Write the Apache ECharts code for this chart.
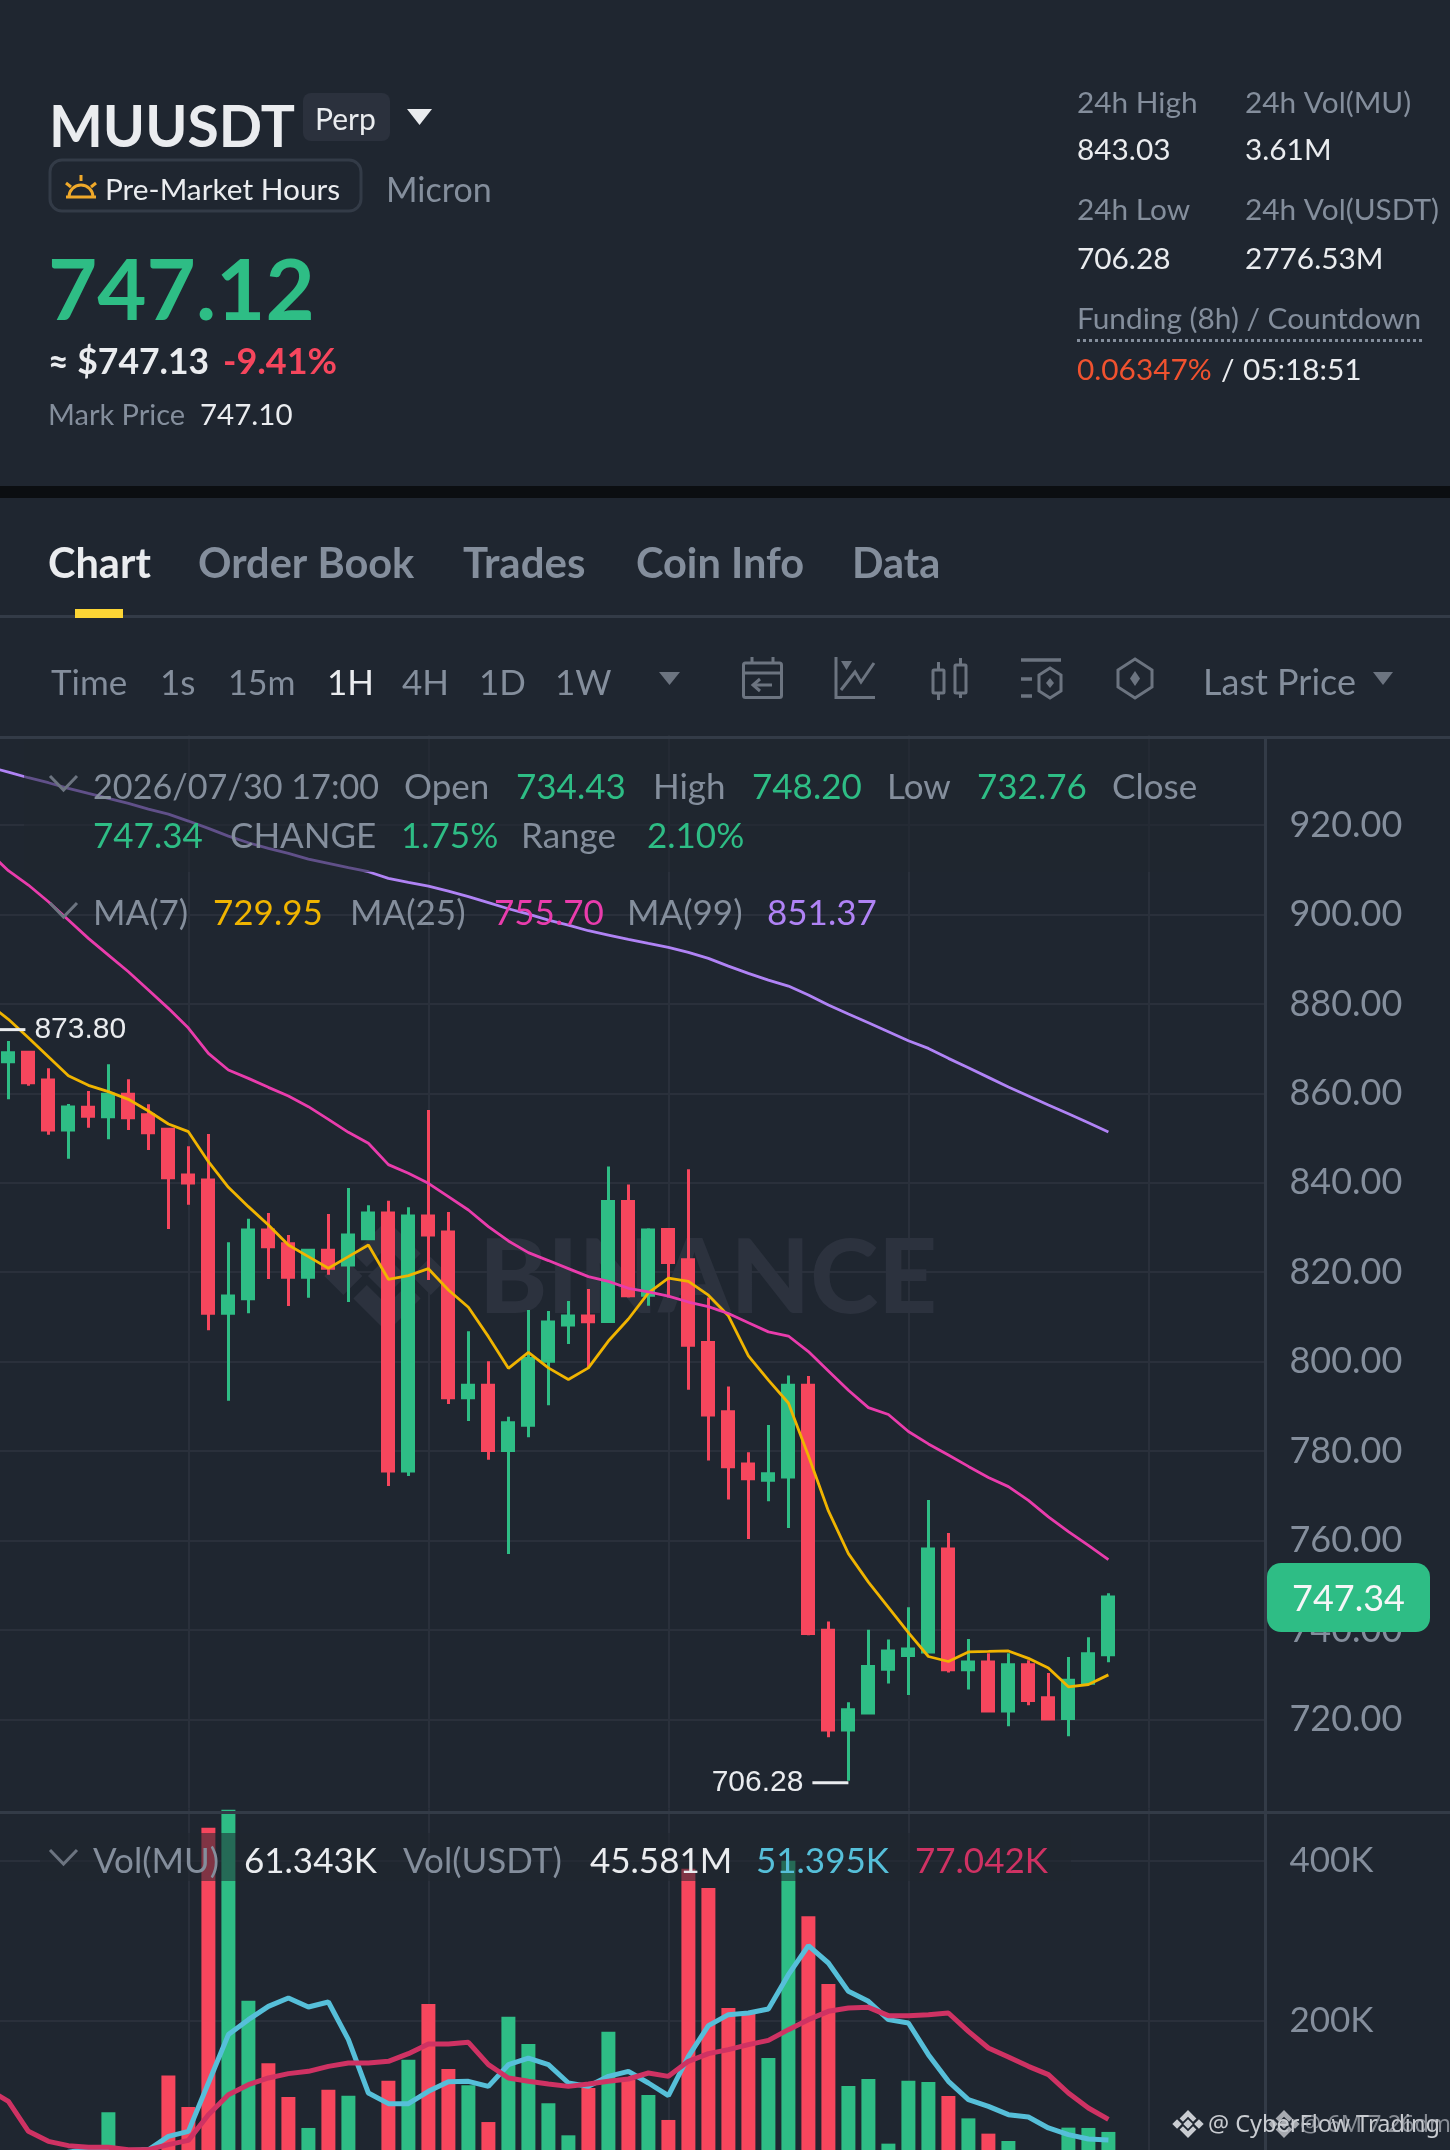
<!DOCTYPE html>
<html><head><meta charset="utf-8">
<style>html,body{margin:0;padding:0;background:#1f2630}#c{width:1450px;height:2150px}</style>
<script src="https://cdn.jsdelivr.net/npm/echarts@6/dist/echarts.min.js"></script>
</head><body><div id="c"></div>
<script>
// index -1 is the candle just left of the visible area
const categories = ['-1','0','1','2','3','4','5','6','7','8','9','10','11','12','13','14','15','16','17','18','19','20','21','22','23','24','25','26','27','28','29','30','31','32','33','34','35','36','37','38','39','40','41','42','43','44','45','46','47','48','49','50','51','52','53','54','55','','','','','','','',''];
const opens = [871,867.08,869.17,862.98,851.80,856.87,854.78,859.78,855.23,851.95,841.74,840.62,810.80,814.08,829.44,826.38,818.85,824.89,821.61,827.50,833.24,775.55,832.57,829.0,791.95,794.71,780.10,785.76,800.07,808.2,810.21,809.0,835.81,814.87,829.55,822.77,804.29,788.79,777.08,773.49,774.21,794.74,739.92,717.63,721.44,731.19,734.27,735.09,758.09,731.08,732.83,721.85,732.22,724.82,720.2,728.1,734.43];
const closes = [867.2,869.09,862.38,851.80,856.94,854.86,859.78,854.56,851.20,841.14,839.95,810.80,814.68,829.44,825.71,818.85,824.89,820.87,828.32,833.24,775.55,832.57,828.32,791.95,794.71,780.10,786.36,800.7,808.87,810.21,808.91,835.81,814.76,829.44,822.15,803.67,788.07,776.47,773.8,774.93,794.74,739.2,717.63,722.16,731.8,735.3,735.71,758.09,731.08,732.83,721.85,732.22,724.21,720.1,728.72,734.68,747.34];
const lows = [866,858.66,861.71,850.76,845.39,852.32,849.71,851.80,847.33,829.66,835.11,807.0,791.27,810.80,818.48,812.44,814.31,819.45,813.34,827.50,772.2,774.43,818.26,790.53,786.73,778.08,757,783.08,790.23,803.95,798.5,809.0,814.35,812.5,814.35,793.72,777.9,769.18,760.35,768.77,762.81,738.8,716.0,706.28,721.44,728.0,725.44,735.09,730.47,726.67,721.64,718.46,723.18,719.9,716.2,728.1,732.76];
const highs = [873.80,871.70,869.17,865.59,857.61,860.52,866.48,863.13,857.54,851.95,848.15,850.91,826.68,831.97,833.24,828.32,824.89,833.02,838.83,834.95,836.0,834.5,856.27,833.46,806.78,800.07,787.70,811.55,811.33,813.56,816.25,843.61,839.6,829.85,829.75,843.0,814.35,794.43,779.75,785.81,796.9,796.8,741.87,723.8,740.02,737.86,745.05,769.07,761.68,737.96,734.78,734.78,733.24,730.37,733.96,738.37,748.20];
const ma7 = [880,876.55,872.45,868.2,863.95,861.79,860.37,858.66,856.05,853.14,851.43,844.72,838.98,834.66,830.56,826.08,823.48,820.87,823.48,826.08,818.41,819.23,820.79,816.02,812.15,805.59,798.5,802.08,798.6,796.0,798.6,804.6,809.53,815.38,818.66,817.95,814.86,810.25,801.31,795.87,790.74,778.93,766.61,757.06,750.7,745.05,739.4,734.06,732.94,735.09,735.19,735.3,733.65,731.5,727.29,727.8,729.95];
const ma25 = [914.03,909.78,906.58,902.85,898.75,894.65,890.92,887.2,883.1,879.0,874.6,868.95,865.22,863.35,861.34,859.4,857.02,854.19,851.28,848.82,844.05,842.11,839.87,836.89,833.91,830.2,826.98,824.37,822.6,820.8,819.0,817.95,816.4,815.58,814.66,813.33,812.3,810.76,808.7,806.65,805.73,802.24,797.92,793.61,789.71,788.17,784.37,781.6,779.14,776.57,774.1,772.05,768.97,765.28,761.99,758.91,755.70];
const ma99 = [933.04,931.84,930.58,929.46,928.19,927.07,925.96,924.84,923.57,922.45,920.89,919.25,917.53,916.04,914.77,913.66,912.39,911.42,910.45,909.56,908.07,907.17,906.35,905.23,903.97,902.63,901.28,900.09,898.75,897.63,896.36,895.4,894.43,893.53,892.64,891.52,890.18,888.46,886.82,885.33,883.99,881.98,879.74,877.73,875.79,873.78,871.77,870.05,867.82,865.73,863.57,861.4,859.4,857.4,855.44,853.43,851.37];
const volumes = [30000,20000,22000,25000,30000,32000,85800,30000,42000,132000,92500,441700,464000,225400,147100,105000,66300,114000,106700,30000,125400,151700,221300,140000,119600,73700,205400,171300,97100,57100,116300,186700,126700,107500,76300,390400,366300,216300,210000,153800,400400,330800,246300,118800,127500,46700,125400,123800,106300,78300,59200,50000,30000,30000,66700,66300,61343];
const volMaShort = [26000,28000,30000,32000,36000,40000,41000,38000,39000,55800,62000,122500,183000,201700,218300,228800,217500,223800,176700,110000,96700,96700,112100,124200,124600,118300,145400,153700,145400,122500,118300,130800,137100,122500,106700,155800,194200,207900,210000,215000,257900,294200,272500,237100,224600,201700,197500,157900,124600,101700,93300,82900,80000,66300,57900,52500,51395];
const volMaLong = [114000,99600,62100,49600,44200,42100,42100,39200,39200,45400,50800,82900,107900,120400,128800,134200,137100,143300,147500,147500,149600,159200,171300,171300,173300,145400,128800,124600,121300,118300,121300,124600,127500,135000,130800,149600,159200,164200,170400,175800,189200,201700,212100,216300,217100,206700,206700,207900,210000,187100,166300,155000,143300,132900,110000,91200,77042];

const BG='#1f2630', LINE='#333b47', GRID='#2a303b', GRAY='#848e9c', WHITE='#eaecef', GREEN='#2ebd85', RED='#f6465d', F='Lato, "Noto Sans", sans-serif';
const MA7C='#f0b400', MA25C='#e93cac', MA99C='#b083f5', VMS='#56bfd9', VMR='#cf3263';

const candleData = opens.map((o,i)=>[o,closes[i],lows[i],highs[i]]);
const volData = volumes.map((v,i)=>({value:v,itemStyle:{color:closes[i]>=opens[i]?GREEN:RED}}));

// y is the text baseline
function t(x,y,text,fill,size,weight,extra){return {type:'text',x:x,y:y-0.27*size,z:20,style:Object.assign({text:text,fill:fill,fontSize:size,fontWeight:weight||400,fontFamily:F,textAlign:'left',verticalAlign:'middle'},extra||{})};}
function r(x,y,w,h,fill,z,rad,stroke,lw){return {type:'rect',z:z===undefined?5:z,shape:{x:x,y:y,width:w,height:h,r:rad||0},style:{fill:fill,stroke:stroke||null,lineWidth:lw||0}};}
function chevron(x,y){return {type:'polyline',z:20,shape:{points:[[x,y],[x+13.5,y+14],[x+27,y]]},style:{stroke:'#6c7480',lineWidth:3,fill:null}};}
function tri(x,y,w,h,fill){return {type:'polygon',z:20,shape:{points:[[x,y],[x+w,y],[x+w/2,y+h]]},style:{fill:fill}};}
function lineG(pts,stroke,lw){return {type:'polyline',z:20,shape:{points:pts},style:{stroke:stroke,lineWidth:lw||3,fill:null}};}
function bdiamond(cx,cy,s,fill,z,op){
  const d=(x,y,a)=>({type:'polygon',z:z,shape:{points:[[x,y-a],[x+a,y],[x,y+a],[x-a,y]]},style:{fill:fill,opacity:op===undefined?1:op}});
  const c=(pts)=>({type:'polygon',z:z,shape:{points:pts.map(p=>[cx+p[0]*s,cy+p[1]*s])},style:{fill:fill,opacity:op===undefined?1:op}});
  return [d(cx,cy,.17*s),d(cx-.39*s,cy,.17*s),d(cx+.39*s,cy,.17*s),
    c([[0,-.5],[.3,-.2],[.18,-.08],[0,-.26],[-.18,-.08],[-.3,-.2]]),
    c([[0,.5],[.3,.2],[.18,.08],[0,.26],[-.18,.08],[-.3,.2]])];
}

const g=[];
const LS=35, ST=29.8, TB=35;
// header
g.push(t(49,144,'MUUSDT','#eaecef',57,700));
g.push(r(303,93,87,48,'#2b313d',5,8));
g.push(t(315,128,'Perp',WHITE,30,400));
g.push(tri(407,109,25,16,'#eaecef'));
g.push(r(50,160,311,51,'none',5,12,LINE,3));
g.push(lineG([[66,197],[96,197]],'#f0a92a',3));
g.push({type:'arc',z:20,shape:{cx:81,cy:197,r:12,startAngle:Math.PI,endAngle:2*Math.PI},style:{stroke:'#f0a92a',lineWidth:3,fill:null}});
g.push(lineG([[81,175],[81,181]],'#f0a92a',3),lineG([[66,183],[71,187]],'#f0a92a',3),lineG([[96,183],[91,187]],'#f0a92a',3));
g.push(t(105,198,'Pre-Market Hours',WHITE,29.8,400));
g.push(t(386,200,'Micron',GRAY,34,400));
g.push(t(48,316,'747.12',GREEN,85,700));
g.push(t(48,372,'≈ $747.13',WHITE,35.5,700));
g.push(t(223,372,'-9.41%',RED,36,700));
g.push(t(48,423,'Mark Price',GRAY,29,400));
g.push(t(200,423,'747.10',WHITE,29.5,400));
g.push(t(1077,111,'24h High',GRAY,ST),t(1245,111,'24h Vol(MU)',GRAY,ST),t(1077,158,'843.03',WHITE,ST),t(1245,158,'3.61M',WHITE,ST));
g.push(t(1077,218,'24h Low',GRAY,ST),t(1245,218,'24h Vol(USDT)',GRAY,ST),t(1077,267,'706.28',WHITE,ST),t(1245,267,'2776.53M',WHITE,ST));
g.push(t(1077,327,'Funding (8h) / Countdown',GRAY,ST));
g.push({type:'line',z:20,shape:{x1:1077,y1:340.5,x2:1422,y2:340.5},style:{stroke:GRAY,lineWidth:3,lineDash:[3,3]}});
g.push(t(1077,378,'0.06347%','#f0522f',ST),t(1221,378,'/',WHITE,ST),t(1243,378,'05:18:51',WHITE,ST));
g.push(r(0,486,1450,12,'#0b0e11',5));
// tabs
g.push(t(48,576,'Chart',WHITE,41.5,700),t(198,576,'Order Book',GRAY,41.5,700),t(463,576,'Trades',GRAY,42,700),t(636,576,'Coin Info',GRAY,41.5,700),t(852,576,'Data',GRAY,41.5,700));
g.push(r(0,615,1450,3,LINE,5),r(75,609,48,9,'#fcd535',6));
// toolbar
g.push(t(51,693,'Time',GRAY,TB),t(160,693,'1s',GRAY,TB),t(228,693,'15m',GRAY,34),t(327,693,'1H',WHITE,TB),t(402,693,'4H',GRAY,TB),t(479,693,'1D',GRAY,TB),t(555,693,'1W',GRAY,TB),t(1203,693,'Last Price',GRAY,36));
g.push(tri(659,672,21,13,'#6c7480'),tri(1373,672,20,13,'#6c7480'));
const IC='#6c7480';
g.push(r(743.5,663,38,34.5,'none',20,2,IC,3),lineG([[743,673],[782,673]],IC,3),lineG([[752,657],[752,663]],IC,3),lineG([[773,657],[773,663]],IC,3),lineG([[772,685],[753,685]],IC,3),lineG([[760,679],[753,685],[760,691]],IC,3));
g.push(lineG([[836,657],[836,697.5],[875,697.5]],IC,3),tri(841,661,11,9,IC),lineG([[841,690],[855,672],[861,682],[874,663]],IC,3));
g.push(r(933,670,11,23,'none',20,1,IC,3),lineG([[938.5,662],[938.5,670]],IC,3),lineG([[938.5,693],[938.5,700]],IC,3),r(955,665,11,28,'none',20,1,IC,3),lineG([[960.5,658],[960.5,665]],IC,3),lineG([[960.5,693],[960.5,698]],IC,3));
g.push(lineG([[1021,660],[1061,660]],IC,3.5),lineG([[1021,679],[1032,679]],IC,3.5),lineG([[1021,696],[1032,696]],IC,3.5),{type:'polygon',z:20,shape:{points:[[1050,668],[1061,675],[1061,691],[1050,698],[1039,691],[1039,675]]},style:{stroke:IC,lineWidth:3,fill:null}},{type:'polygon',z:20,shape:{points:[[1050,678],[1054,683],[1050,688],[1046,683]]},style:{fill:IC}});
g.push({type:'polygon',z:20,shape:{points:[[1135,659],[1152,670],[1152,687],[1135,698],[1118,687],[1118,670]]},style:{stroke:IC,lineWidth:3,fill:null}},{type:'polygon',z:20,shape:{points:[[1135,671],[1140,678.5],[1135,686],[1130,678.5]]},style:{fill:IC}});
// panel lines
g.push(r(0,736,1450,3,LINE,5));
g.push(r(1266,737,14,1413,BG,1));
g.push(r(1264,737,3,1413,LINE,5));
g.push(r(0,1811,1450,3,LINE,6));
// legend veils
g.push(r(24,739,1186,133,'rgba(31,38,48,0.55)',4));
g.push(r(40,1833,1031,48,'rgba(31,38,48,0.55)',4));
// legend rows
g.push(chevron(50,776));
g.push(t(93,797,'2026/07/30 17:00',GRAY,34.2),t(404,797,'Open',GRAY,LS),t(516,797,'734.43',GREEN,LS),t(653,797,'High',GRAY,LS),t(752,797,'748.20',GREEN,LS),t(887,797,'Low',GRAY,LS),t(977,797,'732.76',GREEN,LS),t(1112,797,'Close',GRAY,LS));
g.push(t(93,846,'747.34',GREEN,LS),t(230,846,'CHANGE',GRAY,LS),t(401,846,'1.75%',GREEN,LS),t(521,846,'Range',GRAY,LS),t(647,846,'2.10%',GREEN,LS));
g.push(chevron(50,903));
g.push(t(93,923,'MA(7)',GRAY,LS),t(213,923,'729.95',MA7C,LS),t(350,923,'MA(25)',GRAY,LS),t(494,923,'755.70',MA25C,LS),t(627,923,'MA(99)',GRAY,LS),t(767,923,'851.37',MA99C,LS));
g.push(chevron(50,1850));
g.push(t(93,1871,'Vol(MU)',GRAY,LS),t(244,1871,'61.343K',WHITE,LS),t(403,1871,'Vol(USDT)',GRAY,LS),t(590,1871,'45.581M',WHITE,LS),t(756,1871,'51.395K',VMS,LS),t(915,1871,'77.042K',VMR,LS));
// last price tag
g.push(r(1267,1563,163,69,GREEN,15,14));
g.push(t(1292,1609,'747.34','#f5f6f7',36,400));
// watermark
g.push({type:'text',z:1,x:479,y:1280,style:{text:'BINANCE',fill:'#2c323e',fontSize:103,fontWeight:900,fontFamily:'Lato,sans-serif',textAlign:'left',verticalAlign:'middle'}});
bdiamond(387,1276,112,'#2c323e',1).forEach(o=>g.push(o));
// bottom right credit
bdiamond(1188,2124,28,'#c9ccd1',20).forEach(o=>g.push(o));
bdiamond(1284,2124,28,'#c9ccd1',20,0.8).forEach(o=>g.push(o));
g.push(t(1208,2132,'@ CyberFlow Trading','#c9ccd1',23.5,400,{fontFamily:'"Noto Sans",sans-serif'}));
g.push(t(1300,2132,'@ 6M 7 26dmg','#b4b8bf',23.5,400,{fontFamily:'"Noto Sans",sans-serif',opacity:.7}));

const option={
 backgroundColor:BG,animation:false,
 grid:[{left:-21.6,top:735.6,width:1300,height:1073.2,outerBoundsMode:'none',containLabel:false},{left:-21.6,top:1809,width:1300,height:372,outerBoundsMode:'none',containLabel:false}],
 xAxis:[0,1].map(i=>({type:'category',gridIndex:i,data:categories,boundaryGap:true,
   axisLine:{show:false},axisTick:{show:false},axisLabel:{show:false},
   splitLine:{show:true,alignWithLabel:true,interval:(idx)=>(idx-1)%12===9,lineStyle:{color:GRID,width:2}}})),
 yAxis:[
  {type:'value',gridIndex:0,min:700,max:940,interval:20,position:'right',axisLine:{show:false},axisTick:{show:false},
   axisLabel:{color:GRAY,fontSize:36,fontFamily:F,margin:11,showMinLabel:false,showMaxLabel:false,formatter:v=>v.toFixed(2),padding:[0,0,8,0]},
   splitLine:{show:true,showMinLine:false,showMaxLine:false,lineStyle:{color:GRID,width:2}}},
  {type:'value',gridIndex:1,min:0,max:465000,interval:200000,position:'right',axisLine:{show:false},axisTick:{show:false},
   axisLabel:{color:GRAY,fontSize:35,fontFamily:F,margin:11,showMinLabel:false,showMaxLabel:false,formatter:v=>(v/1000)+'K',padding:[0,0,6,0]},
   splitLine:{show:true,showMinLine:false,showMaxLine:false,lineStyle:{color:GRID,width:2}}}
 ],
 graphic:{elements:g},
 series:[
  {name:'Price',type:'candlestick',xAxisIndex:0,yAxisIndex:0,data:candleData,barWidth:11.5,z:2,
   itemStyle:{color:GREEN,color0:RED,borderColor:GREEN,borderColor0:RED,borderWidth:3},
   markPoint:{silent:true,animation:false,data:[
     {coord:['-1',873.80],symbol:'rect',symbolSize:[30,3],symbolOffset:[22,-2],itemStyle:{color:'#eaecef'},
      label:{show:true,formatter:'873.80',position:'right',distance:9,color:'#eaecef',fontSize:30,fontFamily:'"Liberation Sans",Arial,sans-serif'}},
     {coord:['42',706.28],symbol:'rect',symbolSize:[36,3],symbolOffset:[-18,2],itemStyle:{color:'#eaecef'},
      label:{show:true,formatter:'706.28',position:'left',distance:9,color:'#eaecef',fontSize:30,fontFamily:'"Liberation Sans",Arial,sans-serif'}}
   ]}},
  {name:'MA7',type:'line',xAxisIndex:0,yAxisIndex:0,data:ma7,symbol:'none',z:3,lineStyle:{color:MA7C,width:2.8}},
  {name:'MA25',type:'line',xAxisIndex:0,yAxisIndex:0,data:ma25,symbol:'none',z:3,lineStyle:{color:MA25C,width:2.8}},
  {name:'MA99',type:'line',xAxisIndex:0,yAxisIndex:0,data:ma99,symbol:'none',z:3,lineStyle:{color:MA99C,width:2.8}},
  {name:'Vol',type:'bar',xAxisIndex:1,yAxisIndex:1,data:volData,barWidth:14,z:2},
  {name:'VolMA1',type:'line',xAxisIndex:1,yAxisIndex:1,data:volMaShort,symbol:'none',z:3,lineStyle:{color:VMS,width:5}},
  {name:'VolMA2',type:'line',xAxisIndex:1,yAxisIndex:1,data:volMaLong,symbol:'none',z:3,lineStyle:{color:VMR,width:5}}
 ]
};
const chart=echarts.init(document.getElementById('c'),null,{renderer:'canvas',width:1450,height:2150});
chart.setOption(option);
</script></body></html>
